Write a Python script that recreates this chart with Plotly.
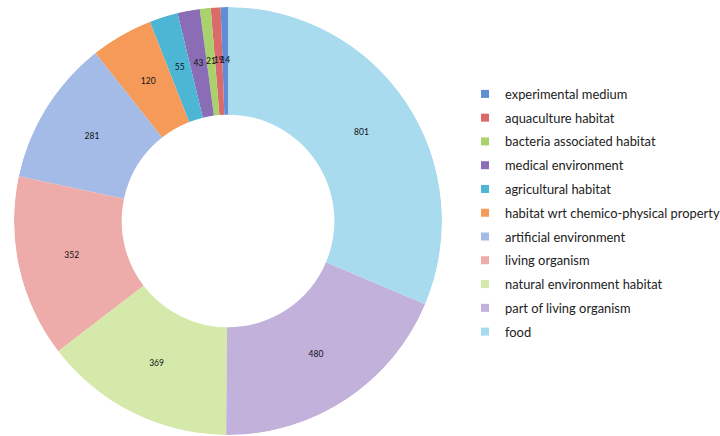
import numpy as np
import plotly.graph_objects as go

labels = ["experimental medium", "aquaculture habitat", "bacteria associated habitat",
          "medical environment", "agricultural habitat", "habitat wrt chemico-physical property",
          "artificial environment", "living organism", "natural environment habitat",
          "part of living organism", "food"]
values = [14, 19, 21, 43, 55, 120, 281, 352, 369, 480, 801]
colors = ["#5F8ED6", "#DB6B6B", "#A9D26C", "#8A6DB5", "#4CB6D4", "#F59A58",
          "#A3BBE6", "#EDABAA", "#D5EAAA", "#C2B1DB", "#A8DBEE"]

W, H = 720, 436
HOLE = 0.497
dom = dict(x=[13 / W, 443 / W], y=[1 - 435 / H, 1 - 7 / H])

vals = np.array(values, dtype=float)
span = vals / vals.sum() * 360.0
mid_theta = np.cumsum(span) - span / 2

fig = go.Figure()
# ring segments (donut) drawn as polar bars
fig.add_trace(go.Barpolar(
    r=[1 - HOLE] * len(values), base=HOLE, theta=mid_theta, width=span,
    marker=dict(color=colors, line=dict(width=0)),
    customdata=np.column_stack([labels, values]),
    hovertemplate="%{customdata[0]}: %{customdata[1]}<extra></extra>",
    showlegend=False,
))
# value labels at the middle of each ring segment
fig.add_trace(go.Scatterpolar(
    r=[(1 + HOLE) / 2] * len(values), theta=mid_theta, mode="text",
    text=[str(v) for v in values], showlegend=False, hoverinfo="skip",
    textfont=dict(family="Lato, sans-serif", size=8.5, color="#111111"),
))
# legend entries (one group per category to control spacing)
for lab, col in zip(labels, colors):
    fig.add_trace(go.Scatterpolar(
        r=[None], theta=[None], mode="markers", name=lab, legendgroup=lab,
        marker=dict(symbol="square", size=8, color=col), hoverinfo="skip",
    ))

fig.update_layout(
    width=W, height=H, margin=dict(l=0, r=0, t=0, b=0, autoexpand=False),
    paper_bgcolor="white",
    polar=dict(
        domain=dom, bgcolor="rgba(0,0,0,0)", bargap=0,
        radialaxis=dict(range=[0, 1], visible=False, showgrid=False),
        angularaxis=dict(rotation=90, direction="counterclockwise",
                         visible=False, showgrid=False),
    ),
    legend=dict(x=465 / W, y=1 - 79 / H, xanchor="left", yanchor="top",
                font=dict(family="Lato, sans-serif", size=12.9, color="#222"),
                tracegroupgap=4.0, itemwidth=30, bgcolor="rgba(0,0,0,0)"),
)
fig.write_html("out.html", config={"displayModeBar": False},
               post_script="document.body.style.margin='0';document.body.style.overflow='hidden';")
